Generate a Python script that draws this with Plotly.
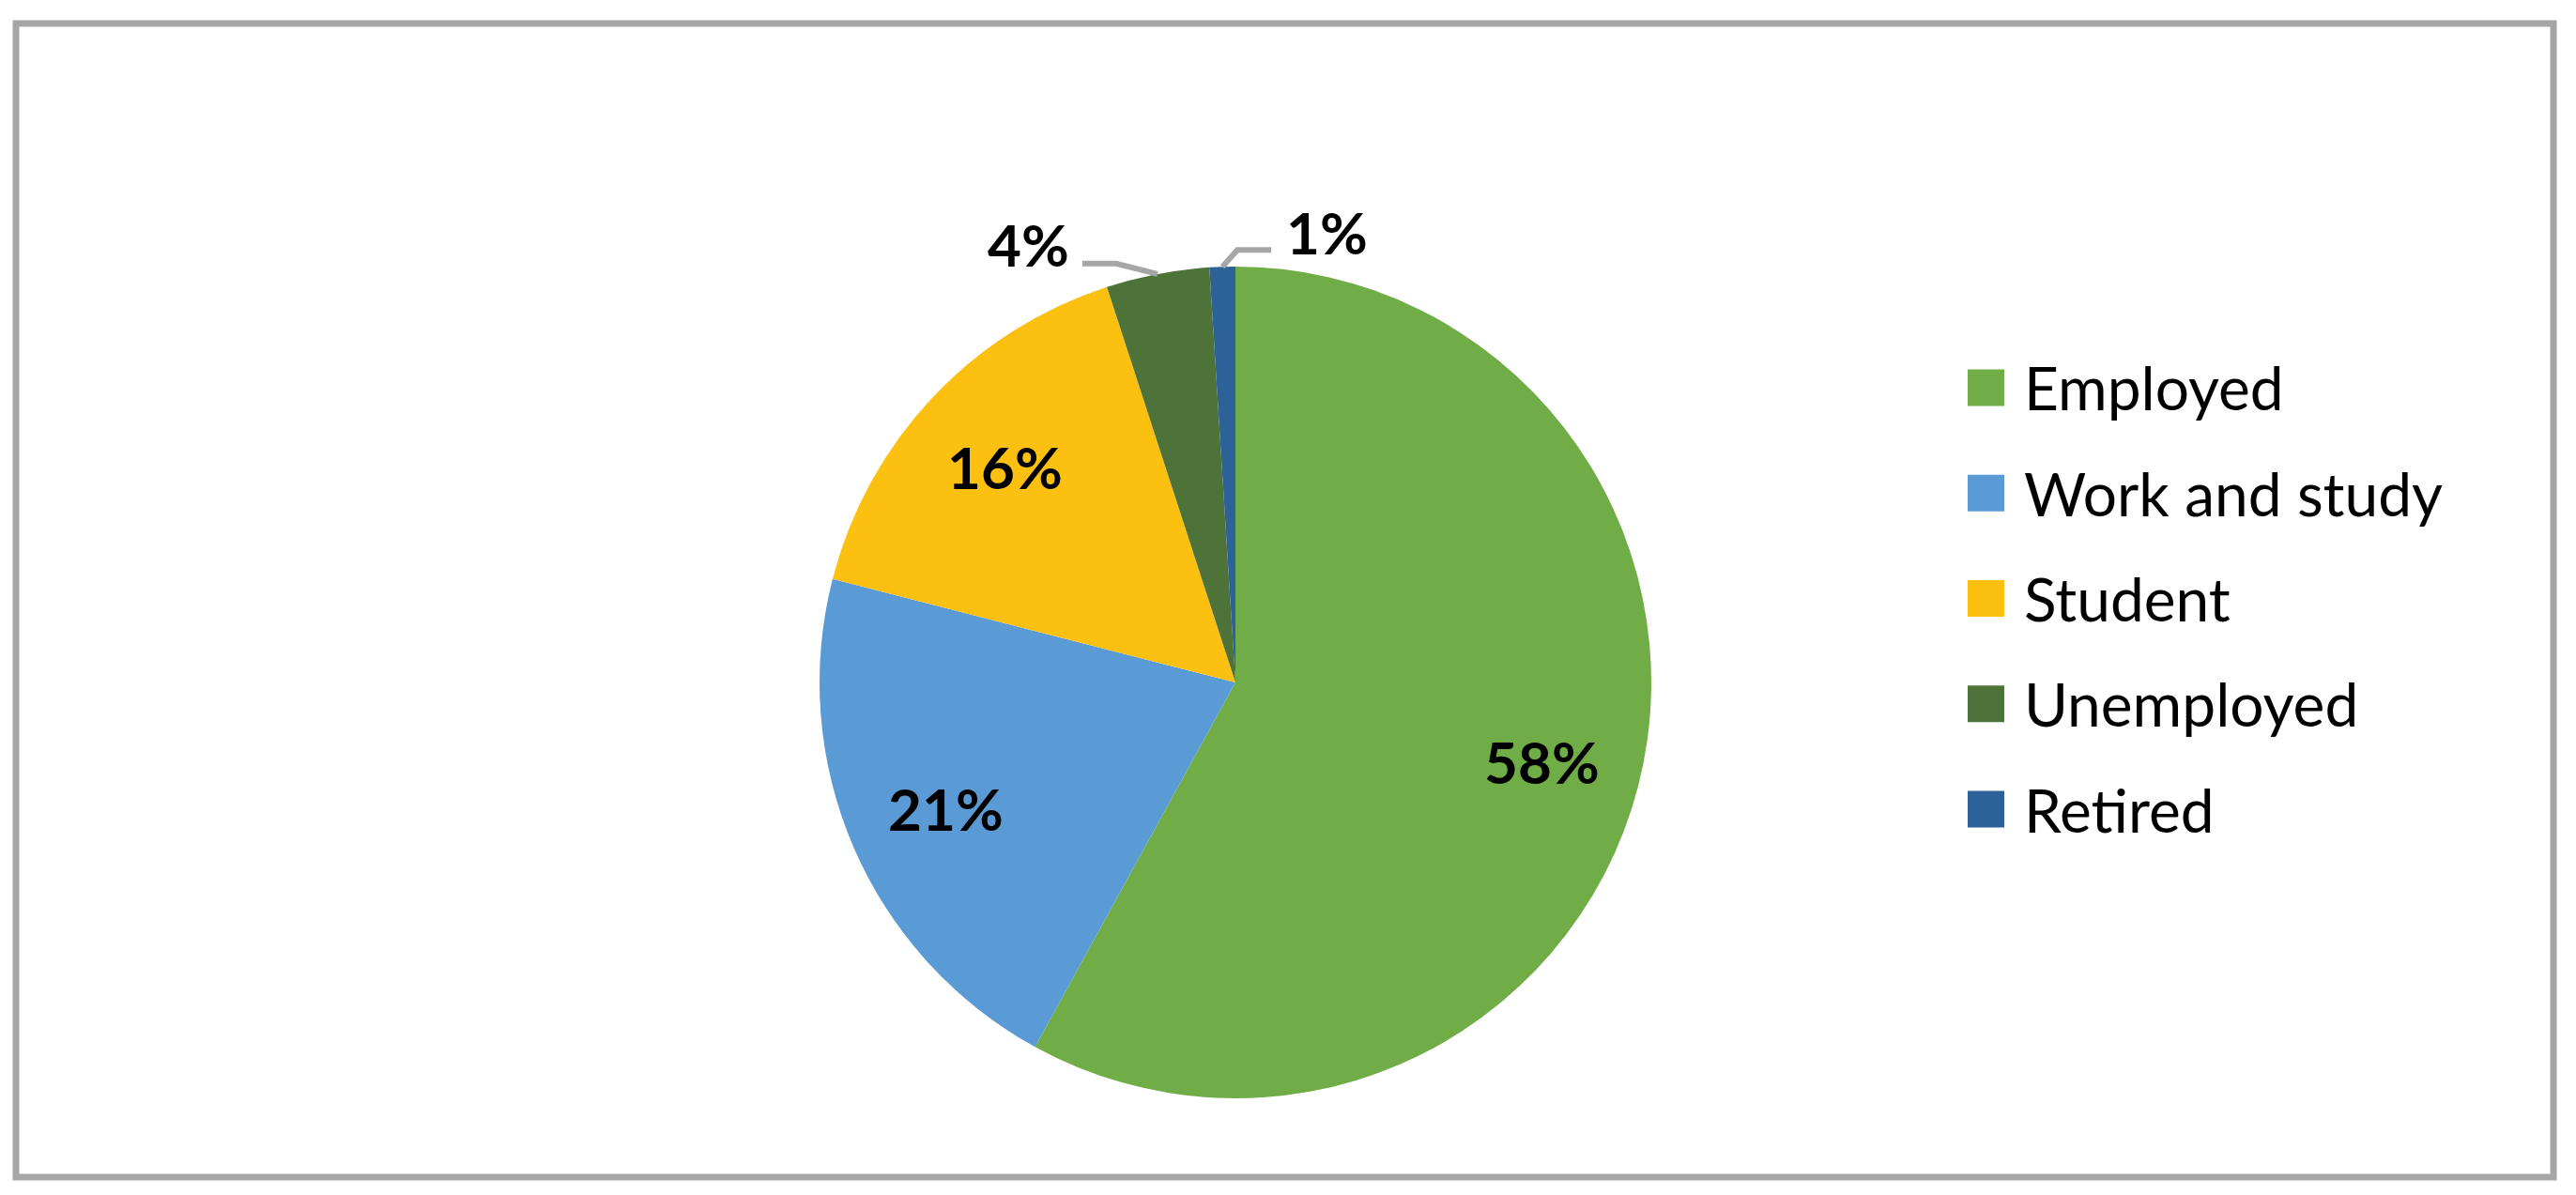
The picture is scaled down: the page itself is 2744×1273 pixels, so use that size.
import math

import plotly.graph_objects as go

# data
labels = ["Employed", "Work and study", "Student", "Unemployed", "Retired"]
values = [58, 21, 16, 4, 1]
colors = ["#70ad47", "#5b9bd5", "#fcc010", "#4e7339", "#2d6298"]

# page geometry (px from top-left of the window); the body has an 8px margin
PAGE_OFF = 8
W, H = 2744 - 2 * PAGE_OFF, 1273 - 2 * PAGE_OFF
CX, CY, R = 1316, 727, 443
FONT = "Lato, 'Open Sans', Arial, sans-serif"
FRAME = "#a6a6a6"


def px(x):
    return (x - PAGE_OFF) / W


def py(y):
    return 1 - (y - PAGE_OFF) / H


fig = go.Figure(go.Pie(
    labels=labels,
    values=values,
    sort=False,
    direction="clockwise",
    rotation=0,
    marker=dict(colors=colors, line=dict(width=0)),
    textinfo="none",
    domain=dict(x=[px(CX - R), px(CX + R)], y=[py(CY + R), py(CY - R)]),
    showlegend=False,
    hoverinfo="label+percent",
))

# data labels: big slices inside on the bisector, small ones outside with elbow leaders
outside = {
    # text offset from tip, elbow offset, line end offset
    "Unemployed": ((-137, -32), (-44, -11), (-80, -11)),
    "Retired": ((111, -37), (16, -18), (52, -18)),
}
total = sum(values)
cum = 0
for lab, v in zip(labels, values):
    mid = (cum + v / 2) / total * 2 * math.pi
    cum += v
    pct = f"<b>{round(v / total * 100)}%</b>"
    if lab in outside:
        tx = CX + R * math.sin(mid)
        ty = CY - R * math.cos(mid)
        (dx, dy), (ex, ey), (lx, ly) = outside[lab]
        fig.add_shape(
            type="path", xref="paper", yref="paper",
            path=(f"M {px(tx)} {py(ty)} L {px(tx + ex)} {py(ty + ey)} "
                  f"L {px(tx + lx)} {py(ty + ly)}"),
            line=dict(color=FRAME, width=6),
        )
        lx_, ly_ = tx + dx, ty + dy
    else:
        lx_ = CX + 0.76 * R * math.sin(mid)
        ly_ = CY - 0.76 * R * math.cos(mid)
    fig.add_annotation(x=px(lx_), y=py(ly_), xref="paper", yref="paper",
                       text=pct, showarrow=False,
                       xanchor="center", yanchor="middle",
                       font=dict(family=FONT, size=62, color="black"))

# legend drawn by hand so swatches can be large
LEG_X, LEG_Y0, LEG_DY, SW = 2096, 413, 112.25, 39
for i, (lab, col) in enumerate(zip(labels, colors)):
    yc = LEG_Y0 + i * LEG_DY
    fig.add_shape(type="rect", xref="paper", yref="paper",
                  x0=px(LEG_X), x1=px(LEG_X + SW),
                  y0=py(yc + SW / 2), y1=py(yc - SW / 2),
                  fillcolor=col, line=dict(width=0))
    fig.add_annotation(x=px(LEG_X + 58), y=py(yc), xref="paper", yref="paper",
                       text=lab, showarrow=False, xanchor="left", yanchor="middle",
                       font=dict(family=FONT, size=64, color="black"))

# chart frame
fig.add_shape(type="rect", xref="paper", yref="paper",
              x0=px(17), x1=px(2720), y0=py(1254), y1=py(25),
              line=dict(color=FRAME, width=7), fillcolor="rgba(0,0,0,0)")

fig.update_layout(
    width=W, height=H,
    margin=dict(l=0, r=0, t=0, b=0),
    paper_bgcolor="white",
    plot_bgcolor="white",
    font=dict(family=FONT),
)

fig.write_html("out.html")
